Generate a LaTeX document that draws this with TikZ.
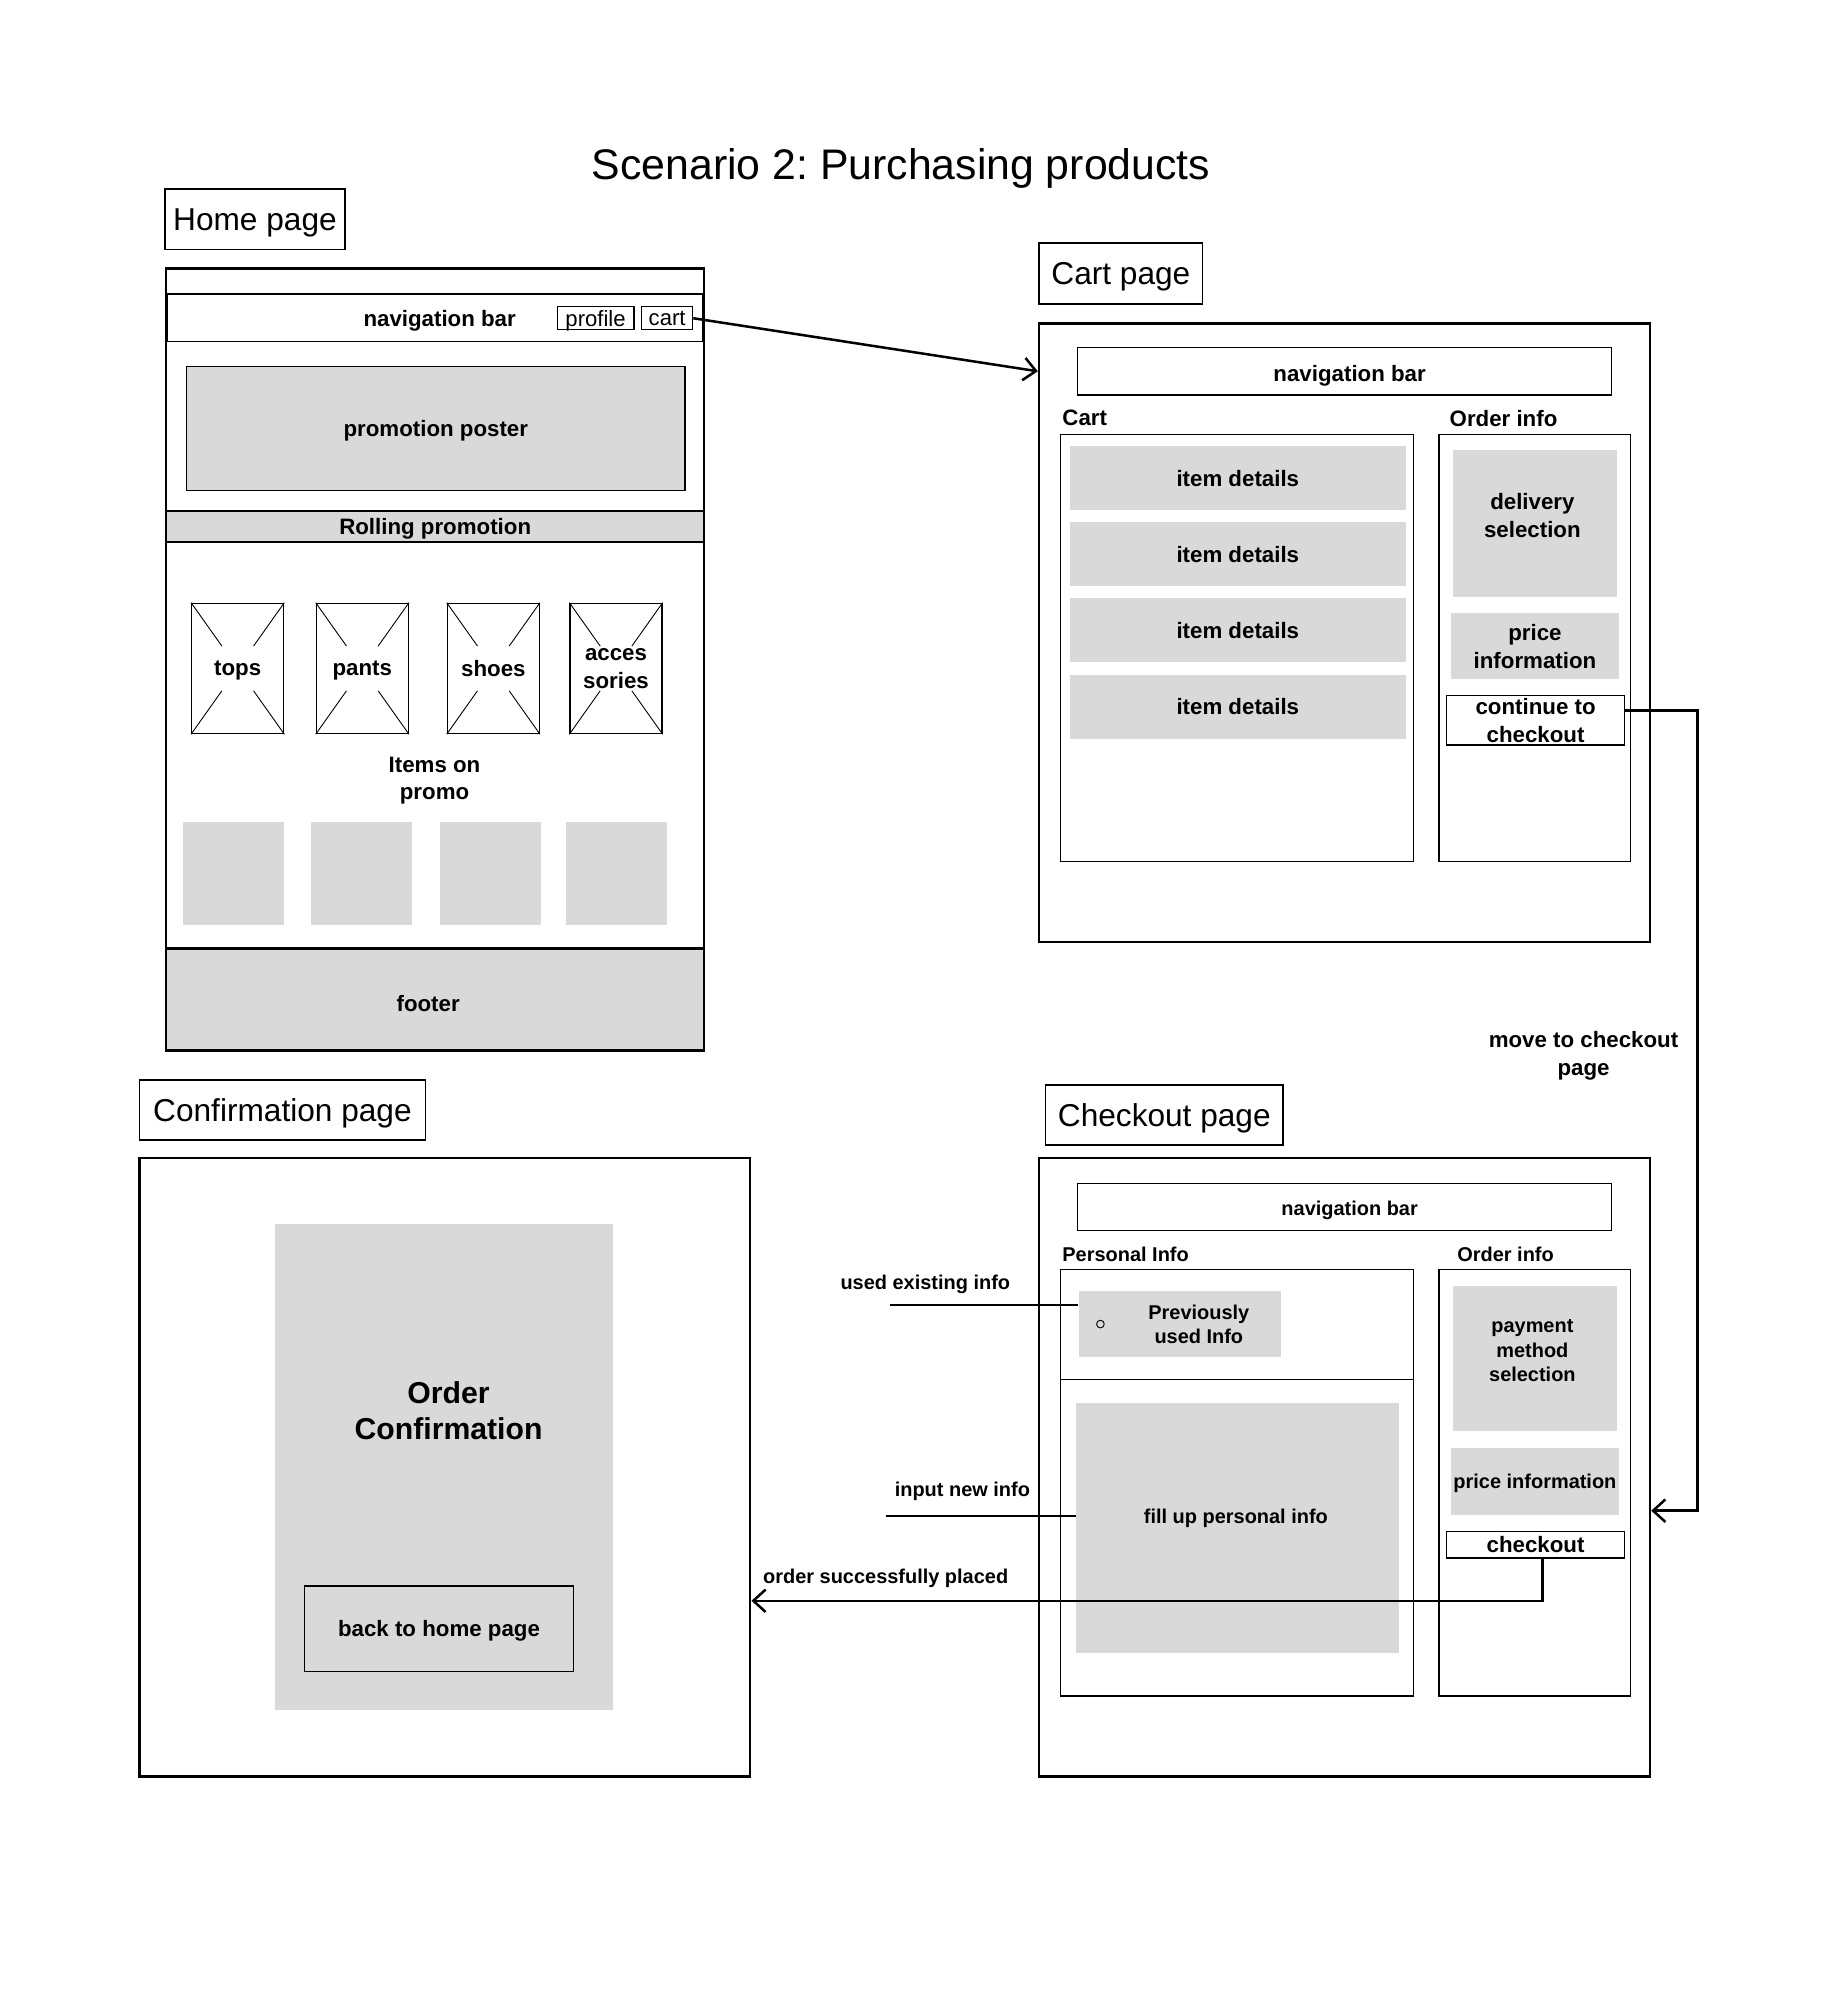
\documentclass[tikz,border=0pt]{standalone}
\usepackage{fontspec}
\setmainfont{Liberation Sans}
\usetikzlibrary{arrows.meta,calc}
\definecolor{mockgrey}{HTML}{D9D9D9}
\newlength\pxu
\setlength\pxu{0.025cm}
\newcommand\fbig{\fontsize{12.4}{15.5}\selectfont\bfseries}
\newcommand\fsmall{\fontsize{11.1}{13.6}\selectfont\bfseries}
\newcommand\fplain{\fontsize{12.3}{15}\selectfont}
\newcommand\fhead{\fontsize{17.6}{21}\selectfont}
\newcommand\ftitle{\fontsize{23.8}{28}\selectfont}
\newcommand\fconf{\fontsize{16.8}{20}\selectfont\bfseries}
\tikzset{
  wsize/.style 2 args={minimum width=#1\pxu,minimum height=#2\pxu},
  wframe/.style={draw=black,line width=1.4pt,inner sep=0pt},
  whead/.style={draw=black,line width=0.8pt,inner sep=0pt,text depth=0pt,font=\fhead},
  wbox/.style={draw=black,line width=0.7pt,fill=white,inner sep=0pt,text depth=0pt,align=center,font=\fbig},
  wfill/.style={fill=mockgrey,inner sep=0pt,text depth=0pt,align=center,font=\fbig},
  wfillb/.style={wfill,draw=black,line width=0.7pt},
  wband/.style={wfill,draw=black,line width=1.4pt},
  wtext/.style={inner sep=0pt,text depth=0pt,align=center,font=\fbig},
  wsmall/.style={inner sep=0pt,text depth=0pt,align=center,font=\fsmall},
  varr/.style={-{Straight Barb[length=2.4mm,width=4.4mm]},line width=1.4pt,draw=black},
  vline/.style={line width=1pt,draw=black}
}
\begin{document}
\frenchspacing
\begin{tikzpicture}[x=0.025cm,y=-0.025cm]
  \useasboundingbox (0,0) rectangle (1436,1568);
  \node[font=\ftitle,text depth=0pt] (title) at (705,128) {Scenario 2: Purchasing products};

  % home page
  \node[whead,wsize={141}{47}] (hlabel) at (199.5,171.5) {Home page};
  \node[wframe,wsize={421}{612}] (hpage) at (340.5,516) {};
  \node[wbox,wsize={419}{37}] (hnav) at (340.5,248.5) {};
  \node[wtext] at (344,249) {navigation bar};
  \node[wbox,font=\fplain,wsize={60}{18}] (hprof) at (466,249) {profile};
  \node[wbox,font=\fplain,wsize={40}{18}] (hcart) at (522,249) {cart};
  \node[wfillb,wsize={390}{97}] (hposter) at (341,335.5) {promotion poster};
  \node[wband,wsize={421}{24}] (hroll) at (340.5,412) {Rolling promotion};
  \node[wbox,wsize={72}{102}] (htops) at (186,523) {};
  \node[wbox,wsize={72}{102}] (hpants) at (283.5,523) {};
  \node[wbox,wsize={72}{102}] (hshoes) at (386,523) {};
  \node[wbox,wsize={72}{102}] (hacc) at (482,523) {};
  \foreach \n in {htops,hpants,hshoes,hacc}{
    \draw[line width=0.5pt] (\n.north west) -- ($(\n.north west)!0.33!(\n.south east)$);
    \draw[line width=0.5pt] (\n.south east) -- ($(\n.south east)!0.33!(\n.north west)$);
    \draw[line width=0.5pt] (\n.north east) -- ($(\n.north east)!0.33!(\n.south west)$);
    \draw[line width=0.5pt] (\n.south west) -- ($(\n.south west)!0.33!(\n.north east)$);
  }
  \node[wtext] at (htops) {tops};
  \node[wtext] at (hpants) {pants};
  \node[wtext] at (hshoes) {shoes};
  \node[wtext] at (hacc) {acces\\sories};
  \node[wtext] (hitems) at (340,609) {Items on\\promo};
  \node[wfill,wsize={79}{81}] (hsq1) at (182.5,683.5) {};
  \node[wfill,wsize={79}{81}] (hsq2) at (283,683.5) {};
  \node[wfill,wsize={79}{81}] (hsq3) at (384,683.5) {};
  \node[wfill,wsize={79}{81}] (hsq4) at (482.5,683.5) {};
  \node[wband,wsize={421}{80}] (hfoot) at (340.5,782) {};
  \node[wtext] at (335,785) {footer};

  % cart page
  \node[whead,wsize={128}{48}] (clabel) at (877,214) {Cart page};
  \node[wframe,wsize={478}{484}] (cpage) at (1052,495) {};
  \node[wbox,wsize={418}{37}] (cnav) at (1052,290.5) {};
  \node[wtext] at (1056,292) {navigation bar};
  \node[wtext,anchor=west] (ccarthd) at (831,327) {Cart};
  \node[wtext,anchor=west] (corderhd) at (1134,327) {Order info};
  \node[wbox,wsize={276}{334}] (clist) at (968,507) {};
  \foreach \i/\y in {1/374,2/433.5,3/493,4/553}
    \node[wfill,wsize={263}{50}] (citem\i) at (968.5,\y) {item details};
  \node[wbox,wsize={150}{334}] (corder) at (1201,507) {};
  \node[wfill,wsize={128}{115}] (cdeliv) at (1201,409.5) {};
  \node[wtext] at (1199,403) {delivery\\selection};
  \node[wfill,wsize={132}{51}] (cprice) at (1201,505.5) {price\\information};
  \node[wbox,wsize={139}{39}] (ccont) at (1201.5,563.5) {continue to\\checkout};

  % checkout page
  \node[whead,wsize={186}{47}] (klabel) at (911,872.5) {Checkout page};
  \node[wframe,wsize={478}{484}] (kpage) at (1052,1148) {};
  \node[wbox,font=\fsmall,wsize={418}{37}] (knav) at (1052,944.5) {};
  \node[wsmall] at (1056,945) {navigation bar};
  \node[wsmall,anchor=west] (kperhd) at (831,981) {Personal Info};
  \node[wsmall,anchor=west] (korderhd) at (1140,981) {Order info};
  \node[wbox,wsize={276}{334}] (kper) at (968,1160) {};
  \draw[line width=0.7pt] ($(kper.north west)+(0,87)$) -- ($(kper.north east)+(0,87)$);
  \node[wfill,wsize={158}{52}] (kprev) at (923,1036) {};
  \node[circle,draw,line width=0.5pt,inner sep=0pt,minimum size=6\pxu] (kradio) at (861,1036) {};
  \node[wsmall] (kprevtxt) at (938,1036) {Previously\\used Info};
  \node[wfill,wsize={253}{195}] (kfill) at (968.5,1195.5) {};
  \node[wsmall] at (967,1186) {fill up personal info};
  \node[wbox,wsize={150}{334}] (korder) at (1201,1160) {};
  \node[wfill,wsize={128}{114}] (kpay) at (1201,1063) {};
  \node[wsmall] at (1199,1057) {payment\\method\\selection};
  \node[wfill,font=\fsmall,wsize={132}{52}] (kprice) at (1201,1159) {price information};
  \node[wbox,wsize={139}{21}] (kbtn) at (1201.5,1208.5) {checkout};

  % confirmation page
  \node[whead,wsize={224}{47}] (flabel) at (221,868.5) {Confirmation page};
  \node[wframe,wsize={478}{484}] (fpage) at (348,1148) {};
  \node[wfill,wsize={265}{380}] (fconf) at (347.5,1148) {};
  \node[inner sep=0pt,text depth=0pt,align=center,font=\fconf] (fconftxt) at (351,1104) {Order\\Confirmation};
  \node[draw=black,line width=0.7pt,inner sep=0pt,text depth=0pt,font=\fbig,wsize={211}{67}] (fback) at (343.5,1274.5) {back to home page};

  % flow between pages
  \draw[varr] (hcart.east) -- (cnav -| cpage.west);
  \draw[varr] ($(ccont.east)+(0,-7.5)$) -- ++(56.5,0) -- ++(0,626) coordinate (kbend) -- (kbend -| kpage.east);
  \node[wtext] (lmove) at (1239,824) {move to checkout\\page};
  \draw[varr] ($(kbtn.south)+(5.5,0)$) -- ++(0,33) coordinate (kturn) -- (kturn -| fpage.east);
  \node[wsmall] (lorder) at (693,1233) {order successfully placed};
  \node[wsmall] (luse) at (724,1003) {used existing info};
  \coordinate (luse0) at (696,1021);
  \draw[vline] (luse0) -- (luse0 -| kprev.west);
  \node[wsmall] (lnew) at (753,1165) {input new info};
  \coordinate (lnew0) at (693,1186);
  \draw[vline] (lnew0) -- (lnew0 -| kfill.west);
\end{tikzpicture}
\end{document}
